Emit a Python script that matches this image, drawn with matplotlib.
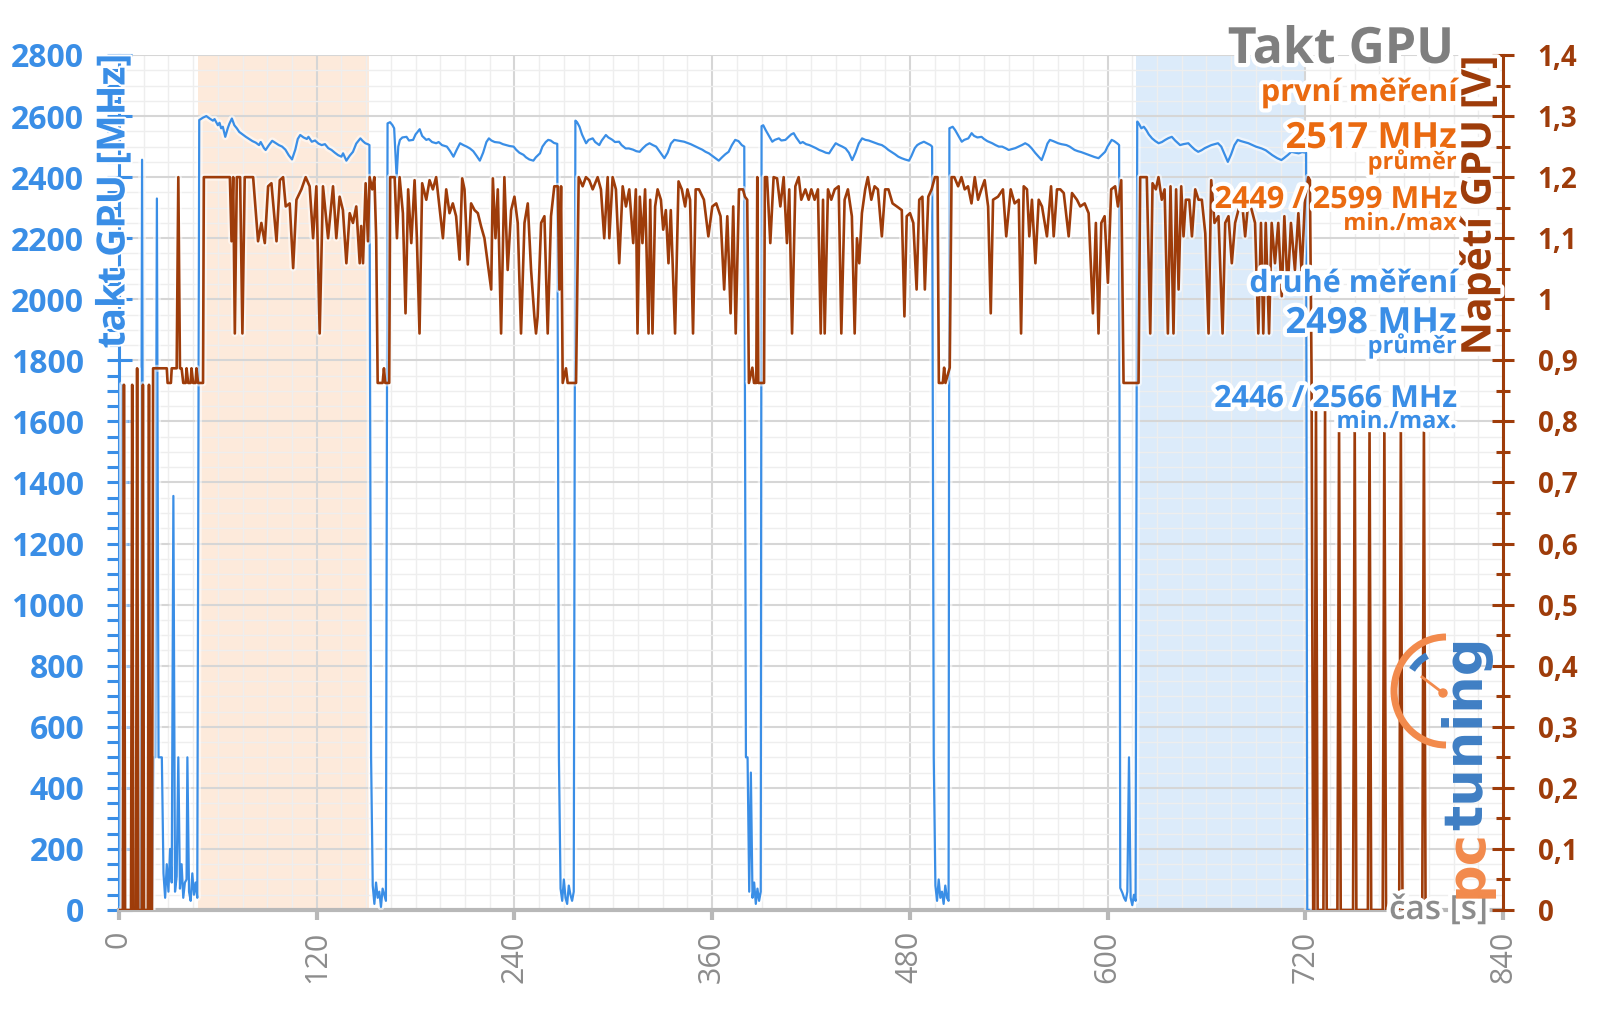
import matplotlib
matplotlib.use("Agg")
import matplotlib.pyplot as plt
from matplotlib import patheffects as pe
from matplotlib.patches import Arc, Circle
from matplotlib.ticker import MultipleLocator, FuncFormatter

plt.rcParams['font.family'] = ['Open Sans', 'DejaVu Sans']

BLUE = '#3a8ee6'
BROWN = '#9e3c0a'
ORANGE = '#ea6a10'
GREY = '#8c8c8c'

# GPU clock [MHz] over time [s], (t, MHz)
clock = [
    # start-up
    (0, 0), (2, 1720), (3, 0), (13, 0), (14, 2457), (15, 0), (20, 0), (21, 500), (22, 500),
    (23, 2330), (24, 500), (25, 500), (26, 500), (27, 120), (28, 40), (29, 150), (30, 60),
    (31, 200), (32, 90), (33, 1356), (34, 60), (35, 110), (36, 500), (37, 70), (38, 150),
    (39, 40), (40, 90), (41, 100), (41.5, 500), (42.5, 60), (43.5, 30), (44.5, 120),
    (45.5, 50), (46.5, 90), (47.5, 40),
    # run 1
    (48.7, 2587), (51, 2595), (53, 2600), (55, 2592), (57, 2585), (58, 2590), (60, 2570),
    (61, 2578), (62, 2560), (63, 2565), (64.5, 2532), (66, 2560), (67, 2575), (68.5, 2592),
    (70, 2570), (71.5, 2560), (73, 2548), (75, 2540), (77, 2532), (79, 2525), (81, 2518),
    (83, 2513), (85, 2505), (86, 2515), (88, 2495), (89, 2489), (91, 2505), (93, 2519),
    (95, 2512), (97, 2505), (99, 2500), (101, 2490), (103, 2472), (105, 2458), (107, 2490),
    (108.5, 2525), (110, 2538), (112, 2530), (114, 2525), (115, 2532), (117, 2516),
    (119, 2520), (121, 2510), (123, 2505), (125, 2508), (127, 2495), (129, 2489),
    (131, 2480), (133, 2472), (135, 2467), (136, 2478), (138, 2454), (140, 2470),
    (142, 2483), (144, 2510), (146.5, 2527), (148, 2518), (149.5, 2511), (151, 2508),
    (152, 2505),
    (153, 500), (154, 80), (155, 20), (156, 90), (157, 40), (158, 60), (159, 10), (160, 70),
    (161, 50), (162, 30),
    # run 2
    (163, 2576), (164.5, 2580), (166, 2570), (167, 2560), (168.5, 2400), (169.5, 2500),
    (170.5, 2522), (172, 2530), (174.5, 2532), (176, 2520), (178.5, 2522), (180, 2540),
    (182.5, 2557), (184, 2535), (186.5, 2522), (188, 2525), (190, 2515), (192.5, 2511),
    (194, 2515), (196, 2505), (199, 2500), (201, 2485), (203, 2467), (205, 2490),
    (207, 2511), (209, 2505), (211, 2500), (213, 2494), (215, 2485), (217, 2470),
    (219, 2454), (221, 2480), (223, 2515), (224.5, 2527), (226, 2520), (228, 2515),
    (231, 2513), (233, 2508), (235, 2505), (237, 2502), (239.5, 2500), (241, 2490),
    (243, 2480), (245.5, 2473), (247, 2465), (249, 2458), (251.5, 2454), (253, 2465),
    (255.5, 2478), (257, 2500), (259, 2515), (260.5, 2522), (262, 2520), (264, 2512),
    (266, 2509),
    (267, 500), (268, 70), (269, 30), (270, 100), (271, 40), (272, 20), (273, 80), (274, 50),
    (275, 30), (276, 60),
    # run 3
    (277, 2585), (278, 2580), (279.5, 2565), (281, 2540), (283.5, 2511), (285, 2522),
    (287.5, 2527), (289, 2515), (291.5, 2505), (293, 2520), (295.5, 2538), (297, 2530),
    (299.5, 2522), (301, 2515), (303.5, 2516), (305, 2505), (307.5, 2494), (309.5, 2494),
    (312, 2490), (314, 2485), (316, 2483), (318, 2495), (320, 2505), (322, 2511),
    (324, 2505), (326, 2500), (328, 2485), (331, 2462), (333, 2480), (335, 2510),
    (337, 2522), (339, 2520), (341, 2518), (343, 2516), (345, 2512), (347, 2508),
    (350, 2500), (352, 2495), (354, 2490), (356, 2483), (358, 2478), (360, 2470),
    (362, 2462), (364, 2454), (366, 2465), (368, 2475), (370, 2483), (372, 2505),
    (374, 2522), (376, 2518), (378, 2505), (379.5, 2500),
    (380.5, 500), (381.5, 500), (382.5, 60), (383.5, 450), (384.5, 40), (385.5, 90),
    (386.5, 20), (387.5, 70), (388.5, 30), (389.5, 60),
    # run 4
    (390, 2567), (391, 2570), (392.5, 2554), (394, 2540), (396.5, 2516), (398, 2522),
    (400.5, 2527), (402, 2520), (404.5, 2522), (406, 2530), (408, 2540), (409.5, 2544),
    (411, 2530), (413.5, 2511), (415, 2515), (417, 2508), (419, 2505), (421, 2500),
    (423, 2495), (425, 2489), (427, 2485), (429, 2480), (431, 2478), (433, 2495),
    (435, 2511), (437, 2505), (439, 2500), (441, 2494), (443, 2480), (445, 2456),
    (447, 2480), (449, 2510), (451, 2527), (453, 2522), (455, 2520), (457, 2516),
    (459, 2512), (461, 2508), (463, 2505), (465, 2498), (467, 2489), (469, 2482),
    (471, 2475), (473, 2467), (475, 2462), (477, 2458), (479.5, 2454), (481, 2470),
    (483, 2495), (484.5, 2505), (486, 2510), (488.5, 2516), (490, 2512), (492.5, 2505),
    (493.5, 2500),
    (494.5, 500), (495.5, 80), (496.5, 30), (497.5, 100), (498.5, 40), (499.5, 60),
    (500.5, 20), (501.5, 80), (502.5, 40), (503.5, 30),
    # run 5
    (504, 2560), (506, 2565), (507.5, 2554), (509, 2540), (511.5, 2516), (513, 2522),
    (515.5, 2527), (517.5, 2544), (519, 2535), (521, 2530), (523.5, 2532), (525, 2525),
    (527, 2518), (530, 2511), (532, 2505), (534, 2500), (536, 2500), (538, 2495),
    (540, 2489), (542, 2492), (544, 2495), (546, 2500), (548, 2505), (550, 2511),
    (552, 2505), (554, 2494), (556, 2480), (558, 2468), (560, 2456), (562, 2485),
    (563.5, 2510), (565, 2522), (567, 2518), (570, 2511), (572, 2508), (575, 2505),
    (577, 2500), (580, 2489), (582, 2485), (584, 2482), (586, 2478), (588, 2474),
    (590, 2470), (592, 2466), (594.5, 2462), (596, 2470), (598.5, 2483), (600, 2500),
    (602.5, 2522), (604, 2518), (606, 2510), (607, 2505),
    (607.7, 72), (609, 56), (610, 40), (611, 30), (612, 60), (613, 500), (614, 40),
    (615, 16), (616, 50), (617, 30),
    # run 6
    (618, 2582), (619, 2575), (620.5, 2560), (622, 2565), (623.5, 2554), (625, 2540),
    (627, 2527), (629, 2518), (631, 2511), (633, 2515), (635, 2522), (637, 2528),
    (639, 2532), (641, 2520), (644, 2505), (646, 2508), (649, 2511), (651, 2500),
    (653, 2490), (655, 2483), (657, 2488), (659, 2495), (661, 2500), (663, 2505),
    (665, 2508), (667, 2511), (669, 2500), (671, 2475), (673, 2450), (675, 2475),
    (677, 2505), (679, 2522), (681, 2518), (683, 2515), (685.5, 2511), (688, 2505),
    (690, 2500), (693.5, 2494), (696, 2488), (698, 2480), (700, 2472), (701.5, 2467),
    (703, 2462), (705.5, 2456), (707, 2462), (709.5, 2473), (711.5, 2483), (714, 2480),
    (716, 2478), (718, 2482), (720.5, 2480),
    # idle
    (721.2, 0), (795, 0),
]

# GPU voltage [V] over time [s], (t, V)
voltage = [
    # start-up
    (0, 0), (2.3, 0), (3, 0.86), (3.7, 0), (7.3, 0), (8, 0.86), (8.7, 0), (10.3, 0),
    (11, 0.887), (11.7, 0), (13.8, 0), (14.5, 0.86), (15.2, 0), (17.5, 0), (18.2, 0.86),
    (18.9, 0), (20, 0), (20.7, 0.887), (29, 0.887), (29.5, 0.863), (31.5, 0.863),
    (32, 0.887), (35, 0.887), (36, 1.2), (37, 0.887), (38, 0.887), (39, 0.863),
    (40.5, 0.863), (41, 0.887), (42, 0.863), (43.5, 0.863), (44, 0.887), (45, 0.863),
    (46.5, 0.863), (47, 0.887), (48, 0.863), (51, 0.863),
    # run 1
    (51.5, 1.2), (67.3, 1.2), (68.3, 1.095), (69.3, 1.2), (70.3, 0.944), (71.5, 1.2),
    (73.5, 1.2), (74.9, 0.944), (76.3, 1.2), (81.4, 1.2), (84.4, 1.095), (86.4, 1.125),
    (88.5, 1.092), (90.5, 1.185), (92.5, 1.19), (95.6, 1.095), (97.6, 1.195), (99.6, 1.2),
    (101.2, 1.152), (103.6, 1.157), (105.7, 1.051), (107.7, 1.163), (110.7, 1.18),
    (113.3, 1.2), (115.7, 1.185), (117.8, 1.1), (119.8, 1.185), (121.8, 0.944),
    (123.8, 1.185), (126.9, 1.1), (129.9, 1.185), (131.9, 1.1), (133.9, 1.168),
    (135.9, 1.146), (138, 1.059), (140, 1.141), (142, 1.125), (144, 1.152), (146.1, 1.059),
    (147, 1.12), (148.1, 1.059), (149.7, 1.19), (151.1, 1.095), (152.1, 1.2),
    (153.7, 1.18), (155, 1.2), (156.1, 1.1),
    (157, 0.863), (160, 0.863), (160.8, 0.887), (161.6, 0.863), (164, 0.863),
    # run 2
    (164.6, 1.2), (167.3, 1.2), (168.7, 1.1), (170.3, 1.2), (172.3, 1.141), (173.9, 0.977),
    (175.5, 1.18), (177.4, 1.092), (179.4, 1.195), (180.8, 1.1), (182.4, 0.944),
    (184, 1.19), (186.5, 1.163), (188.5, 1.195), (190.5, 1.18), (192.5, 1.2),
    (194.5, 1.152), (196.6, 1.1), (198.6, 1.18), (200.6, 1.141), (202.6, 1.157),
    (204.6, 1.136), (206.7, 1.065), (208.3, 1.198), (209.7, 1.18), (211.7, 1.057),
    (213.7, 1.157), (215.8, 1.146), (217.8, 1.141), (219.8, 1.119), (221.8, 1.1),
    (223.8, 1.059), (225.9, 1.016), (226.9, 1.198), (228.5, 1.1), (229.9, 1.18),
    (231.9, 0.944), (233.9, 1.2), (235.9, 1.048), (238, 1.146), (240, 1.168),
    (242, 1.125), (244, 0.944), (246.1, 1.125), (248.1, 1.157), (250.1, 1.048),
    (252.1, 0.972), (253.1, 0.944), (254.1, 0.972), (256.2, 1.125), (258.2, 1.136),
    (260.2, 0.944), (262.2, 1.136), (264.2, 1.185), (266.3, 1.185), (267.3, 1.016),
    (268.3, 1.185),
    (269.3, 0.863), (271.3, 0.887), (272.3, 0.863), (277.4, 0.863),
    # run 3
    (279, 1.2), (281.4, 1.185), (283.4, 1.2), (285.4, 1.195), (287.5, 1.18), (290.5, 1.2),
    (292.5, 1.18), (294.5, 1.1), (296.6, 1.2), (297.6, 1.1), (299.6, 1.2), (301.6, 1.18),
    (303.6, 1.059), (305.7, 1.185), (307.7, 1.152), (309.7, 1.18), (312.1, 1.092),
    (313.7, 1.18), (314.7, 0.944), (316.1, 1.168), (317.7, 1.092), (319.3, 1.18),
    (321.4, 0.944), (322.4, 1.163), (323.8, 0.944), (325.4, 1.152), (326.9, 1.18),
    (328.9, 1.163), (330.3, 1.114), (331.9, 1.146), (333.5, 1.059), (334.9, 1.146),
    (337.5, 0.944), (339.6, 1.193), (341.6, 1.18), (343.6, 1.152), (345, 1.18),
    (346.6, 1.163), (348.4, 0.944), (350, 1.18), (352, 1.18), (355, 1.163),
    (357.7, 1.103), (360.1, 1.152), (362.5, 1.157), (365.1, 1.136), (367.3, 1.016),
    (369.2, 1.136), (371.2, 0.977), (372.8, 1.152), (374.3, 0.944), (376.3, 1.18),
    (378.7, 1.18), (379.9, 1.168), (381.3, 1.163),
    (382.3, 0.863), (384.4, 0.888), (385.4, 0.863), (386.8, 0.863), (387.4, 1.2),
    (388, 0.863), (391.5, 0.863),
    # run 4
    (392, 1.2), (393.3, 1.2), (395.3, 1.092), (397.3, 1.2), (399.4, 1.198), (401.4, 1.152),
    (403.4, 1.2), (405.4, 1.092), (406.8, 1.18), (408.5, 0.944), (410.5, 1.185),
    (412.5, 1.2), (414.1, 1.163), (416.6, 1.18), (418.6, 1.163), (420.2, 1.18),
    (422.2, 1.163), (424.2, 1.18), (425.9, 0.944), (427.3, 1.163), (428.3, 0.944),
    (430.3, 1.18), (432.3, 1.163), (434.4, 1.18), (436.8, 1.185), (438.4, 0.944),
    (440.4, 1.163), (442.4, 1.18), (444.8, 1.136), (446.5, 0.944), (447.9, 1.1),
    (449.3, 1.059), (450.9, 1.141), (452.9, 1.18), (454.5, 1.2), (456.6, 1.163),
    (458.6, 1.185), (460.6, 1.18), (463, 1.103), (465, 1.18), (467, 1.18),
    (469.5, 1.157), (472.1, 1.152), (475.1, 1.146), (476.7, 0.972), (478.1, 1.136),
    (480.1, 1.141), (482.1, 1.125), (484.1, 1.016), (485.7, 1.163), (487.6, 1.168),
    (489.1, 1.016), (491.2, 1.168), (493.2, 1.18), (495.2, 1.2), (496.8, 1.2),
    (497.6, 0.863), (500, 0.863), (500.8, 0.888), (501.6, 0.863), (504.2, 0.888),
    # run 5
    (505.3, 1.2), (507, 1.2), (509.3, 1.185), (511.3, 1.2), (513.3, 1.18), (515.3, 1.185),
    (517.4, 1.157), (519.4, 1.2), (521.4, 1.163), (523.4, 1.18), (525.4, 1.195),
    (527.5, 1.152), (529.1, 0.977), (530.5, 1.163), (533.5, 1.168), (536.5, 1.18),
    (538.5, 1.103), (541.2, 1.18), (543.6, 1.157), (546.1, 1.163), (547.5, 0.944),
    (549.1, 1.185), (551.1, 1.18), (552.5, 1.103), (554.1, 1.163), (556.2, 1.059),
    (558.2, 1.163), (560.2, 1.152), (563.2, 1.103), (565.7, 1.185), (567.3, 1.103),
    (569.3, 1.18), (571.3, 1.18), (573.4, 1.174), (576.4, 1.103), (578.4, 1.174),
    (581.4, 1.163), (583.4, 1.152), (586.1, 1.157), (588.5, 1.141), (591.1, 0.977),
    (592.9, 1.125), (594.5, 0.944), (596.2, 1.125), (598.2, 1.136), (600.2, 1.027),
    (602.2, 1.18), (604.6, 1.185), (606.3, 1.152), (608.3, 1.195),
    (609.7, 0.863), (618.8, 0.863),
    # run 6
    (619.8, 1.2), (623.8, 1.2), (625.9, 0.944), (627.3, 1.19), (629.3, 1.18), (630.9, 1.2),
    (632.9, 1.163), (634.6, 1.18), (636.6, 0.944), (638.2, 1.185), (640, 0.944),
    (641.6, 1.18), (643.1, 1.016), (644.7, 1.185), (646.1, 1.103), (647.5, 1.163),
    (649.6, 1.163), (651.2, 1.103), (653.2, 1.18), (655.2, 1.163), (657.2, 1.163),
    (659.3, 1.108), (661.3, 0.944), (662.9, 1.195), (664.9, 1.125), (667.3, 1.136),
    (669.8, 0.944), (671.4, 1.125), (673.4, 1.136), (675.4, 1.059), (677.4, 1.125),
    (679.4, 1.146), (681.5, 1.163), (683.5, 1.103), (685.5, 1.163), (687.5, 1.146),
    (689.5, 1.125), (691.5, 0.944), (693.1, 1.125), (694.5, 0.944), (696, 1.125),
    (698, 0.944), (699.6, 1.125), (701.6, 1.059), (703.6, 1.125), (705.7, 1.005),
    (707.3, 1.136), (709.3, 1.016), (711.3, 1.125), (713.7, 1.048), (715.8, 1.141),
    (717.8, 1.043), (719.8, 1.163), (721.8, 1.2), (722.8, 1.195), (723.8, 0.88),
    # idle
    (724.8, 0), (725.5, 0), (726.5, 0.82), (727.5, 0), (731, 0), (732, 0.82), (733, 0),
    (739.5, 0), (740.5, 0.79), (741.5, 0), (749, 0), (750, 0.79), (751, 0), (758, 0),
    (759, 0.79), (760, 0), (767, 0), (768, 0.79), (769, 0), (777, 0), (778, 0.79),
    (779, 0), (791, 0), (792, 0.79), (793, 0), (795, 0),
]

first_run = (48, 152)    # orange band, "první měření"
second_run = (617, 720)  # blue band, "druhé měření"

clock_t, clock_mhz = zip(*clock)
volt_t, volt_v = zip(*voltage)

fig = plt.figure(figsize=(16, 10.09), dpi=100)
ax = fig.add_axes([119 / 1600, 99 / 1009, 1384 / 1600, 855 / 1009])
ax2 = ax.twinx()

ax.axvspan(*first_run, color='#fdeadb', lw=0, zorder=0.1)
ax.axvspan(*second_run, color='#dcebfa', lw=0, zorder=0.1)

glow = [pe.Stroke(linewidth=5, foreground='white', alpha=0.55), pe.Normal()]
ax.plot(clock_t, clock_mhz, color=BLUE, lw=1.6, zorder=3, path_effects=glow)
ax2.plot(volt_t, volt_v, color=BROWN, lw=1.9, zorder=3, path_effects=glow)

ax.set_xlim(0, 840)
ax.set_ylim(0, 2800)
ax2.set_ylim(0, 1.4)

ax.xaxis.set_major_locator(MultipleLocator(120))
ax.xaxis.set_minor_locator(MultipleLocator(15))
ax.yaxis.set_major_locator(MultipleLocator(200))
ax.yaxis.set_minor_locator(MultipleLocator(50))
ax2.yaxis.set_major_locator(MultipleLocator(0.1))
ax2.yaxis.set_minor_locator(MultipleLocator(0.05))


def comma(v, pos):
    s = f"{v:.1f}".replace('.', ',')
    return s[:-2] if s.endswith(',0') else s


ax2.yaxis.set_major_formatter(FuncFormatter(comma))

ax.set_axisbelow(True)
ax.grid(which='major', color='#d6d6d6', lw=1.5)
ax.grid(which='minor', color='#eeeeee', lw=1.0)

for s in ('top', 'right'):
    ax.spines[s].set_visible(False)
for s in ('top', 'left', 'bottom'):
    ax2.spines[s].set_visible(False)
ax.spines['left'].set_color(BLUE)
ax.spines['left'].set_linewidth(2.2)
ax.spines['bottom'].set_color('#b8b8b8')
ax.spines['bottom'].set_linewidth(3)
ax2.spines['right'].set_color(BROWN)
ax2.spines['right'].set_linewidth(2.2)

ax.tick_params(axis='x', which='major', colors='#b8b8b8', length=7, width=3,
               labelcolor=GREY, labelsize=22, labelrotation=90, pad=8)
ax.tick_params(axis='x', which='minor', length=0)
ax.tick_params(axis='y', which='major', direction='inout', colors=BLUE, length=18,
               width=2.2, labelsize=23, pad=16)
ax.tick_params(axis='y', which='minor', direction='out', colors=BLUE, length=9, width=2.2)
ax2.tick_params(axis='y', which='major', direction='inout', colors=BROWN, length=16,
                width=2.2, labelsize=20, pad=17)
ax2.tick_params(axis='y', which='minor', direction='inout', colors=BROWN, length=10,
                width=2.2)
for lab in ax.get_yticklabels() + ax2.get_yticklabels():
    lab.set_fontweight('bold')

# overlay in pixel units for the texts and the logo
ov = fig.add_axes([0, 0, 1, 1])
ov.set_zorder(5)
ov.set_xlim(0, 1600)
ov.set_ylim(1009, 0)
ov.axis('off')

halo = [pe.withStroke(linewidth=6, foreground='white')]
thin_halo = [pe.withStroke(linewidth=3, foreground='white')]

ov.text(114, 54, 'takt GPU [MHz]', rotation=90, ha='center', va='top',
        color=BLUE, fontsize=28, fontweight='bold', path_effects=thin_halo)
ov.text(1480, 55, 'Napětí GPU [V]', rotation=90, ha='center', va='top',
        color=BROWN, fontsize=29.5, fontweight='bold', path_effects=halo)

ov.text(1454, 63, 'Takt GPU', ha='right', va='baseline', color='#7f7f7f',
        fontsize=36, fontweight='bold', path_effects=halo)

notes = [
    ('první měření', ORANGE, 22, 101),
    ('2517 MHz', ORANGE, 26, 148),
    ('průměr', ORANGE, 17, 169),
    ('2449 / 2599 MHz', ORANGE, 22, 208),
    ('min./max', ORANGE, 17, 230),
    ('druhé měření', BLUE, 22, 292),
    ('2498 MHz', BLUE, 26, 333),
    ('průměr', BLUE, 17, 353),
    ('2446 / 2566 MHz', BLUE, 22, 407),
    ('min./max.', BLUE, 17, 428),
]
for txt, col, size, base in notes:
    ov.text(1457, base, txt, ha='right', va='baseline', color=col, fontsize=size,
            fontweight='bold', path_effects=halo)

ov.text(1488, 919, 'čas [s]', ha='right', va='baseline', color=GREY, fontsize=24,
        fontweight='semibold', path_effects=halo)

# pctuning logo
ov.add_patch(Arc((1446, 691), 104, 108, theta1=90, theta2=270, lw=5, color='#f28a4c'))
ov.add_patch(Arc((1446, 691), 80, 80, theta1=212, theta2=242, lw=5, color='#3f7fc4'))
ov.plot([1443, 1422], [693, 677], color='#f28a4c', lw=2)
ov.add_patch(Circle((1443, 693), 4, color='#f28a4c'))
ov.text(1467, 898, 'pc', rotation=90, ha='center', va='bottom', color='#f28a4c',
        fontsize=38, fontweight='bold', family='DejaVu Sans')
ov.text(1467, 830, 'tuning', rotation=90, ha='center', va='bottom', color='#3f7fc4',
        fontsize=38, fontweight='bold', family='DejaVu Sans')

fig.savefig('out.png', dpi=100)
